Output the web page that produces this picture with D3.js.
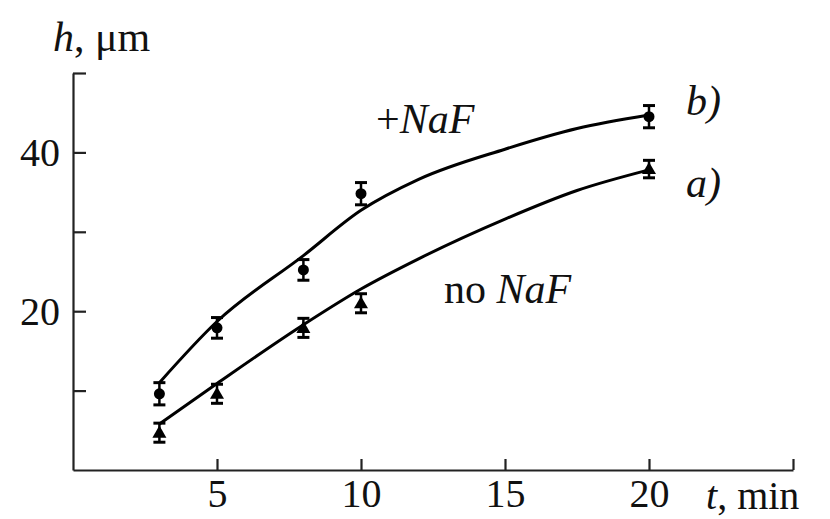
<!DOCTYPE html>
<html>
<head>
<meta charset="utf-8">
<script src="https://cdn.jsdelivr.net/npm/d3@7"></script>
<style>
  body { margin: 0; background: #fff; }
  text { font-family: "Liberation Serif", "Times New Roman", Tinos, "DejaVu Serif", serif; }
</style>
</head>
<body>
<svg id="chart"></svg>
<script>
let width = 830, height = 519;
let serif = "'Liberation Serif', 'Times New Roman', Tinos, 'DejaVu Serif', serif";

// measured points (t in min, h in um) with error bars
let times = [3, 5, 8, 10, 20];
let withNaF = [9.6, 17.9, 25.2, 34.8, 44.5];
let withNaFErr = [1.4, 1.3, 1.3, 1.4, 1.4];
let noNaF = [4.7, 9.6, 17.9, 21.0, 37.9];
let noNaFErr = [1.2, 1.2, 1.2, 1.2, 1.1];

// fitted curves
let fitT = [3, 5, 8, 10, 12, 15, 17.5, 20];
let fitWithNaF = [11.0, 18.7, 27.0, 32.7, 36.6, 40.4, 43.0, 44.7];
let fitNoNaF = [5.8, 10.9, 18.3, 22.8, 26.6, 31.6, 35.2, 37.8];

let xTicks = [5, 10, 15, 20, 25];
let xLabels = [5, 10, 15, 20];
let yTicks = [10, 20, 30, 40, 50];
let yLabels = [20, 40];

let svg = d3.select("#chart")
  .attr("width", width)
  .attr("height", height);

let x = d3.scaleLinear()
  .domain([0, 25])
  .range([73, 793]);
let y = d3.scaleLinear()
  .domain([0, 50])
  .range([470, 73]);

// axes
let xax_draw = d3.axisBottom(x)
  .tickValues(xTicks)
  .tickSize(-11)
  .tickSizeOuter(0)
  .tickPadding(9)
  .tickFormat(d => xLabels.includes(d) ? d : "");
svg.append("g")
  .attr("class", "axis")
  .attr("transform", `translate(0, ${y(0)})`)
  .call(xax_draw);

let yax_draw = d3.axisLeft(y)
  .tickValues(yTicks)
  .tickSize(-13)
  .tickSizeOuter(0)
  .tickPadding(13)
  .tickFormat(d => yLabels.includes(d) ? d : "");
svg.append("g")
  .attr("class", "axis")
  .attr("transform", `translate(${x(0)}, 0)`)
  .call(yax_draw);

svg.selectAll(".axis").attr("font-family", serif);
svg.selectAll(".axis path, .axis line")
  .attr("stroke", "#222")
  .attr("stroke-width", 2.2);
svg.selectAll(".axis text")
  .attr("fill", "#111")
  .style("font-size", "40px")
  .style("font-family", serif);

// fitted lines
let line = d3.line()
  .x(d => x(d[0]))
  .y(d => y(d[1]))
  .curve(d3.curveMonotoneX);

[fitWithNaF, fitNoNaF].forEach(vals => {
  svg.append("path")
    .attr("d", line(fitT.map((t, i) => [t, vals[i]])))
    .attr("fill", "none")
    .attr("stroke", "#000")
    .attr("stroke-width", 3);
});

// error bars
function errorBars(vals, errs) {
  let g = svg.append("g");
  times.forEach((t, i) => {
    let cx = x(t), y1 = y(vals[i] + errs[i]), y2 = y(vals[i] - errs[i]);
    g.append("line").attr("x1", cx).attr("x2", cx).attr("y1", y1).attr("y2", y2)
      .attr("stroke", "#000").attr("stroke-width", 2.5);
    [y1, y2].forEach(yy => {
      g.append("line").attr("x1", cx - 6).attr("x2", cx + 6).attr("y1", yy).attr("y2", yy)
        .attr("stroke", "#000").attr("stroke-width", 3);
    });
  });
}
errorBars(withNaF, withNaFErr);
errorBars(noNaF, noNaFErr);

svg.append("g").selectAll("circle")
  .data(times)
  .join("circle")
  .attr("cx", d => x(d))
  .attr("cy", (d, i) => y(withNaF[i]))
  .attr("r", 5.5)
  .attr("fill", "#000");

svg.append("g").selectAll("path")
  .data(times)
  .join("path")
  .attr("d", d3.symbol().type(d3.symbolTriangle).size(85))
  .attr("transform", (d, i) => `translate(${x(d)}, ${y(noNaF[i]) + 1})`)
  .attr("fill", "#000");

// labels
function label(px, py, parts, size) {
  let t = svg.append("text")
    .attr("x", px)
    .attr("y", py)
    .style("font-size", size + "px")
    .style("font-family", serif)
    .attr("fill", "#111");
  parts.forEach(p => {
    t.append("tspan").text(p[0]).style("font-style", p[1] ? "italic" : "normal");
  });
}
label(53, 51, [["h", true], [", μm", false]], 42);
label(706, 509, [["t", true], [", min", false]], 40);
label(376, 133, [["+", false], ["NaF", true]], 42);
label(444, 303, [["no ", false], ["NaF", true]], 42);
label(686, 115, [["b)", true]], 42);
label(686, 197, [["a)", true]], 42);
</script>
</body>
</html>
